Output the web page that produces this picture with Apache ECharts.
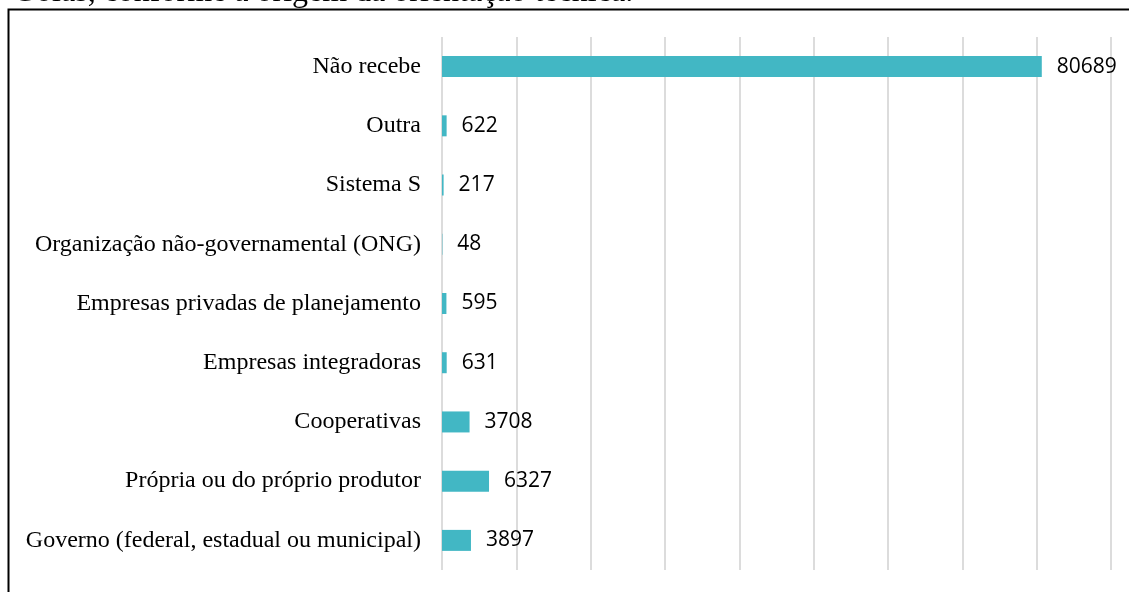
<!DOCTYPE html>
<html>
<head>
<meta charset="utf-8">
<script src="https://cdn.jsdelivr.net/npm/echarts@6/dist/echarts.min.js"></script>
<style>
  html, body { margin: 0; padding: 0; background: #fff; }
  #chart { width: 1129px; height: 592px; }
</style>
</head>
<body>
<div id="chart"></div>
<script>
// origem da orientação técnica (top to bottom)
const categories = [
  'Não recebe',
  'Outra',
  'Sistema S',
  'Organização não-governamental (ONG)',
  'Empresas privadas de planejamento',
  'Empresas integradoras',
  'Cooperativas',
  'Própria ou do próprio produtor',
  'Governo (federal, estadual ou municipal)'
]
const values = [80689, 622, 217, 48, 595, 631, 3708, 6327, 3897]
const caption = 'Goiás, conforme a origem da orientação técnica.'

const chart = echarts.init(document.getElementById('chart'))
chart.setOption({
  animation: false,
  backgroundColor: '#fff',
  grid: {
    left: 442,
    right: 18,
    top: 37,
    height: 533
  },
  xAxis: {
    type: 'value',
    min: 0,
    max: 90000,
    interval: 10000,
    axisLabel: { show: false },
    axisLine: { show: false },
    axisTick: { show: false },
    splitLine: {
      show: true,
      lineStyle: { color: '#dcdcdc', width: 2 }
    }
  },
  yAxis: {
    type: 'category',
    inverse: true,
    data: categories,
    axisLine: { show: false },
    axisTick: { show: false },
    axisLabel: {
      margin: 21,
      color: '#000',
      fontFamily: 'Liberation Serif',
      fontSize: 24
    }
  },
  series: [
    {
      type: 'bar',
      data: values,
      barWidth: 21,
      itemStyle: { color: '#42b7c4' },
      label: {
        show: true,
        position: 'right',
        distance: 15,
        color: '#000',
        fontFamily: 'Open Sans',
        fontSize: 21
      }
    }
  ],
  graphic: [
    {
      type: 'text',
      left: 13,
      top: -23,
      style: {
        text: caption,
        fill: '#000',
        font: '32px "Liberation Serif"'
      }
    },
    {
      type: 'polyline',
      shape: { points: [[8.5, 592], [8.5, 9.5], [1129, 9.5]] },
      style: { stroke: '#000', lineWidth: 2, fill: null }
    }
  ]
})
</script>
</body>
</html>
